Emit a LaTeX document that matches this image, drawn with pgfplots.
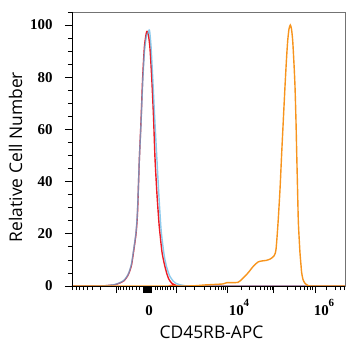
\documentclass[border=0pt]{standalone}
\usepackage{pgfplots}
\pgfplotsset{compat=1.18}
\usepackage{fontspec}
\setmainfont{Open Sans}
\newfontfamily\tickfont{Liberation Serif}
\definecolor{cred}{HTML}{EE1C25}
\definecolor{cblue}{HTML}{5BB4E5}
\definecolor{corange}{HTML}{F7941D}
\newcommand{\pw}[1]{10\raisebox{0.6em}{\fontsize{11}{12}\selectfont #1}}
\begin{document}
\begin{tikzpicture}
\begin{axis}[
  name=ax,
  scale only axis,
  width=273bp, height=274bp,
  xmin=72, xmax=345,
  ymin=0, ymax=105,
  axis line style={black!55, line width=0.6pt},
  tick align=outside,
  xtick pos=bottom, ytick pos=left,
  major tick length=7bp, minor tick length=4bp,
  tick style={black, line width=0.8pt},
  ytick={0,20,40,60,80,100},
  minor ytick={5,10,15,25,30,35,45,50,55,65,70,75,85,90,95,105},
  xtick={116,143,144,145,146,147,148,149,150,151,176,227,273,315},
  xticklabels={,,,,,,,,,,,,,},
  minor xtick={72.7,76,79.3,83.3,87.3,92.7,100.7,118.3,120.7,123.3,126,129.3,132.7,136,139.3,155,157.3,160,162.7,165.3,167.7,170.7,173.3,185,194,204,210,215,218.3,221,223.3,225,241,249.5,255.5,260,264,267.3,270.2,272.7,287.3,295,300.2,304.3,307.5,310.2,312.6,326.7,335,340.3,344.4},
  extra x ticks={149,239,324},
  extra x tick labels={0,\pw{4},\pw{6}},
  extra x tick style={major tick length=0pt, tick style={draw=none}, xticklabel style={anchor=base, yshift=-29bp}},
  /pgf/number format/assume math mode=true,
  yticklabel style={xshift=-9bp},
  every tick label/.append style={font=\fontsize{15}{16}\tickfont\bfseries},
  xlabel={CD45RB-APC},
  ylabel={Relative Cell Number},
  label style={font=\fontsize{17.5}{20}\selectfont},
  xlabel style={xshift=3bp, yshift=3bp},
  ylabel style={yshift=1bp, xshift=-8bp},
  clip=true,
]
\addplot[cred, line width=1.4pt, smooth, tension=0.4] coordinates {
(72,0) (100,0) (108,0.2) (115,0.5) (120,1.2) (124,2) (127,3.5) (129,5) (131.5,8) (133.5,13) (136,20) (137.5,28) (139.3,48) (141,63) (142.7,80) (144.5,92) (146.7,97.5) (148.5,96) (150,91) (151.7,80) (153.5,65) (155,49) (157,35) (159,24) (160,20) (162,13) (164,9) (165,7.4) (167,4.5) (169,2.5) (171.7,1.1) (175,0.4) (180,0) (345,0)
};
\addplot[cblue, opacity=0.7, line width=1.4pt, smooth, tension=0.4] coordinates {
(72,0) (100,0) (108,0.2) (115,0.6) (120,1.3) (124,2.2) (127,3.7) (129,5.2) (131.5,8.5) (133.5,13.5) (136,20.5) (137.5,29) (139.3,48) (141,62) (142.7,78) (144.5,90) (146.5,96) (148,97) (149.5,98) (151,92) (152.7,80) (154.5,66) (157,48) (159,34) (161,22) (162.7,16) (164.5,11) (166.5,7.5) (168.5,5) (170,3.6) (173,2) (176,1) (180,0.5) (185,0.1) (190,0) (345,0)
};
\addplot[corange, line width=1.4pt, smooth, tension=0.4] coordinates {
(72,0) (180,0) (195,0.1) (205,0.4) (215,0.6) (223,0.8) (227,1.3) (238,1.4) (243,3) (248,5) (253,7.4) (258,9.2) (262,9.6) (266,9.8) (270,10.3) (274,11.5) (276,14) (278,24) (280,37) (281.7,51) (283.5,65) (285,76.5) (286.5,87) (287.7,94) (289,98.5) (290.3,100) (291.5,98.5) (292.7,94) (294,85) (295,76.5) (296,63) (296.7,51) (297.5,38) (298.3,25) (299.2,18) (300,12.6) (301,8) (301.7,5) (303,2.5) (305,1) (308,0.2) (312,0) (345,0)
};
\end{axis}
\draw[black, line width=0.8pt] (ax.north west) -- (ax.south west) -- (ax.south east);
\path (ax.south west) ++(-72bp,-64bp) rectangle ++(362bp,350bp);
\end{tikzpicture}
\end{document}
